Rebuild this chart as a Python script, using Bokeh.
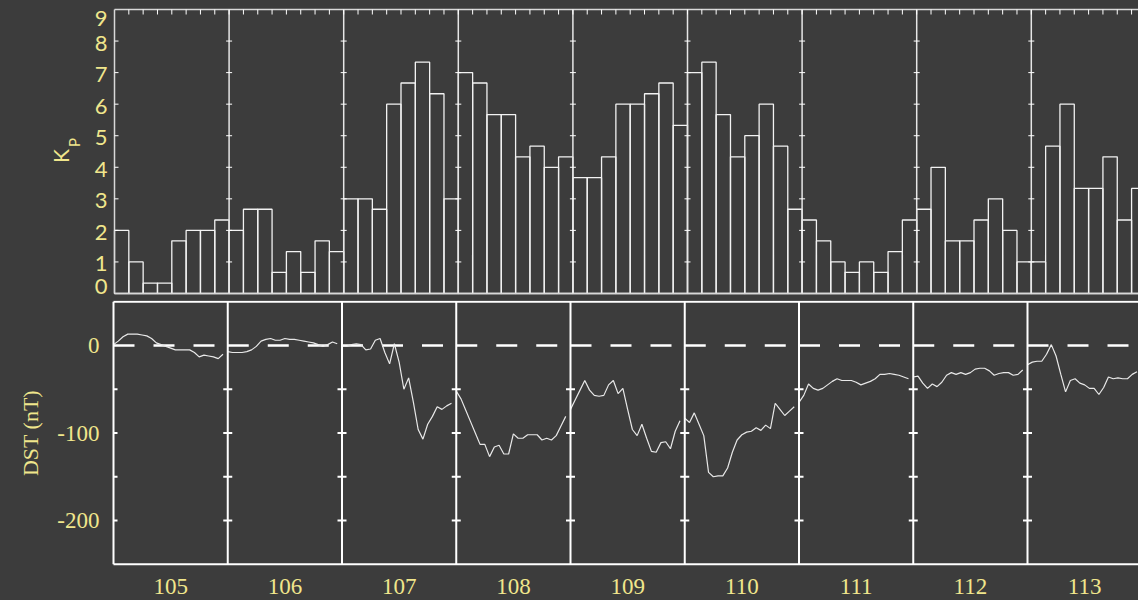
import numpy as np
from bokeh.plotting import figure
from bokeh.layouts import column
from bokeh.models import Range1d
from bokeh.core.properties import value
from bokeh.embed import file_html
from bokeh.resources import INLINE

# ---------------- data ----------------
days = [105, 106, 107, 108, 109, 110, 111, 112, 113]

kp_105 = [2.0, 1.0, 0.33, 0.33, 1.67, 2.0, 2.0, 2.33]
kp_106 = [2.0, 2.67, 2.67, 0.67, 1.33, 0.67, 1.67, 1.33]
kp_107 = [3.0, 3.0, 2.67, 6.0, 6.67, 7.33, 6.33, 3.0]
kp_108 = [7.0, 6.67, 5.67, 5.67, 4.33, 4.67, 4.0, 4.33]
kp_109 = [3.67, 3.67, 4.33, 6.0, 6.0, 6.33, 6.67, 5.33]
kp_110 = [7.0, 7.33, 5.67, 4.33, 5.0, 6.0, 4.67, 2.67]
kp_111 = [2.33, 1.67, 1.0, 0.67, 1.0, 0.67, 1.33, 2.33]
kp_112 = [2.67, 4.0, 1.67, 1.67, 2.33, 3.0, 2.0, 1.0]
kp_113 = [1.0, 4.67, 6.0, 3.33, 3.33, 4.33, 2.33, 3.33]

dst_105 = [1, 5, 10, 13, 13, 13, 12, 11, 8, 3, 1, -1, -3, -5, -5, -5, -5, -8, -13, -11, -12, -13, -15, -10]
dst_106 = [-7, -8, -8, -8, -7, -5, -1, 5, 7, 8, 6, 6, 8, 7, 7, 6, 5, 4, 3, 1, -1, 1, 4, 2]
dst_107 = [-1, -1, 1, 2, 1, -5, -4, 6, 8, -8, -21, 2, -19, -50, -37, -65, -96, -107, -90, -81, -70, -73, -69, -66]
dst_108 = [-52, -61, -74, -87, -100, -113, -113, -127, -116, -114, -124, -124, -101, -106, -106, -102, -102, -102, -108, -106, -108, -103, -92, -81]
dst_109 = [-73, -62, -51, -40, -51, -57, -58, -57, -45, -40, -55, -49, -73, -96, -103, -90, -106, -121, -122, -111, -110, -118, -98, -86]
dst_110 = [-83, -88, -77, -90, -103, -145, -150, -149, -149, -140, -122, -108, -102, -99, -98, -94, -97, -91, -95, -66, -73, -80, -75, -70]
dst_111 = [-65, -57, -44, -49, -51, -49, -45, -41, -38, -40, -40, -40, -42, -45, -43, -41, -38, -33, -33, -32, -33, -34, -36, -38]
dst_112 = [-36, -35, -43, -49, -44, -47, -42, -34, -31, -33, -31, -33, -31, -27, -26, -26, -29, -34, -32, -31, -31, -34, -33, -28]
dst_113 = [-22, -19, -18, -18, -10, 1, -12, -33, -53, -40, -38, -43, -45, -49, -49, -56, -48, -36, -38, -37, -38, -38, -33, -30]

kp_ticks = [0, 1, 2, 3, 4, 5, 6, 7, 8, 9]
dst_label_ticks = [0, -100, -200]
dst_tick_marks = [-200, -150, -100, -50]
kp_title = "K"
kp_title_sub = "P"
dst_title = "DST (nT)"

# ---------------- style / layout (pixels) ----------------
BG = "#3c3c3c"
TXT = "#f0e68c"
W = 1138
H_TOP, H_BOT = 300, 300
# top panel: frame left at px 114, 114.6 px/day; Kp 9 at px 9, Kp 0 at px 293
T_LEFT, T_PXDAY, T_Y9, T_Y0 = 114, 114.6, 9, 293
# bottom panel: frame left at px 113, 114.25 px/day; DST 0 at px 45 (page 345), 0.875 px/nT
B_LEFT, B_PXDAY, B_Y0, B_PXNT = 113, 114.25, 45, 0.875
kp_label_nudge = [-7, 2, 2, 2, 2, 2, 2, 2, 2, 9]   # px, IDL keeps end labels inside the box

kp = kp_105 + kp_106 + kp_107 + kp_108 + kp_109 + kp_110 + kp_111 + kp_112 + kp_113
dst = [dst_105, dst_106, dst_107, dst_108, dst_109, dst_110, dst_111, dst_112, dst_113]

x_start = days[0] - 0.5
bars_per_day = 8
bar_left = x_start + np.arange(len(kp)) / bars_per_day
bar_right = bar_left + 1.0 / bars_per_day
day_bounds = [d - 0.5 for d in days[1:]]

kp_top, kp_bot = kp_ticks[-1], kp_ticks[0]
t_pxk = (T_Y0 - T_Y9) / (kp_top - kp_bot)
t_xr = Range1d(x_start - T_LEFT / T_PXDAY, x_start + (W - T_LEFT) / T_PXDAY)
t_yr = Range1d(kp_bot - (H_TOP - T_Y0) / t_pxk, kp_top + T_Y9 / t_pxk)
x_far = t_xr.end + 1

# ---------------- top panel: Kp ----------------
top = figure(width=W, height=H_TOP, x_range=t_xr, y_range=t_yr,
             output_backend="svg", toolbar_location=None,
             x_axis_location=None, y_axis_location=None, min_border=0,
             background_fill_color=BG, border_fill_color=BG, outline_line_color=None)
top.grid.visible = False

top.quad(left=bar_left, right=bar_right, bottom=kp_bot, top=kp,
         fill_color=None, line_color="#f2f2f2", line_width=1.3)

# panel box
top.segment(x0=[x_start, x_start, x_start], y0=[kp_bot, kp_top, kp_bot],
            x1=[x_start, x_far, x_far], y1=[kp_top, kp_top, kp_bot],
            line_color="#d8d8d8", line_width=1.5)
# day separators
top.segment(x0=day_bounds, y0=kp_bot, x1=day_bounds, y1=kp_top, line_color="#e6e6e6", line_width=1.5)
bx, by = np.meshgrid(day_bounds, kp_ticks[1:-1])
top.scatter(x=bx.ravel(), y=by.ravel(), marker="dash", size=6, line_color="white", line_width=1)
# left inward ticks
top.segment(x0=x_start, y0=kp_ticks[1:-1], x1=x_start + 4 / T_PXDAY, y1=kp_ticks[1:-1],
            line_color="white", line_width=1)
# 3-hour ticks hanging from the top edge
tick3h = x_start + np.arange(1, len(kp) + 2) / bars_per_day
top.segment(x0=tick3h, y0=kp_top, x1=tick3h, y1=kp_top - 5 / t_pxk, line_color="white", line_width=1)

# tick labels and title
top.text(x=[x_start] * len(kp_ticks), y=kp_ticks, text=[str(t) for t in kp_ticks],
         x_offset=-7, y_offset=kp_label_nudge, text_align="right", text_baseline="middle",
         text_font=value("Lato"), text_font_size="22px", text_color=TXT)
kp_mid = (kp_top + kp_bot) / 2
top.text(x=[x_start], y=[kp_mid], text=[kp_title], x_offset=-54, y_offset=4.5, angle=np.pi / 2,
         text_align="center", text_baseline="middle", text_font=value("Lato"),
         text_font_size="21px", text_color=TXT)
top.text(x=[x_start], y=[kp_mid], text=[kp_title_sub], x_offset=-41, y_offset=-9, angle=np.pi / 2,
         text_align="center", text_baseline="middle", text_font=value("Lato"),
         text_font_size="15px", text_color=TXT)

# ---------------- bottom panel: DST ----------------
dst_hi, dst_lo = 50, -250
b_xr = Range1d(x_start - B_LEFT / B_PXDAY, x_start + (W - B_LEFT) / B_PXDAY)
b_yr = Range1d(-(H_BOT - B_Y0) / B_PXNT, B_Y0 / B_PXNT)

bot = figure(width=W, height=H_BOT, x_range=b_xr, y_range=b_yr,
             output_backend="svg", toolbar_location=None,
             x_axis_location=None, y_axis_location=None, min_border=0,
             background_fill_color=BG, border_fill_color=BG, outline_line_color=None)
bot.grid.visible = False

# zero reference, dashed per day
bot.multi_line(xs=[[d - 0.5, d + 0.5] for d in days], ys=[[0, 0] for _ in days],
               line_color="white", line_width=2.5, line_dash="21 19")

# hourly DST, one curve per day
hours = np.arange(24)
bot.multi_line(xs=[list(d - 0.5 + hours / 24.0) for d in days], ys=dst,
               line_color="#e8e8e8", line_width=1.2)

# panel box and day separators
bot.segment(x0=[x_start, x_start, x_start], y0=[dst_lo, dst_hi, dst_lo],
            x1=[x_start, x_far, x_far], y1=[dst_hi, dst_hi, dst_lo],
            line_color="white", line_width=2)
bot.segment(x0=day_bounds, y0=dst_lo, x1=day_bounds, y1=dst_hi, line_color="white", line_width=2)
dx, dy = np.meshgrid(day_bounds, dst_tick_marks)
bot.scatter(x=dx.ravel(), y=dy.ravel(), marker="dash", size=9, line_color="white", line_width=2)
bot.segment(x0=x_start, y0=dst_tick_marks, x1=x_start + 4 / B_PXDAY, y1=dst_tick_marks,
            line_color="white", line_width=2)

# tick labels and title
bot.text(x=[x_start] * len(dst_label_ticks), y=dst_label_ticks, text=[str(t) for t in dst_label_ticks],
         x_offset=-14, text_align="right", text_baseline="middle",
         text_font=value("Liberation Serif"), text_font_size="23px", text_color=TXT)
bot.text(x=[x_start], y=[(dst_label_ticks[1])], text=[dst_title], x_offset=-83, angle=np.pi / 2,
         text_align="center", text_baseline="middle",
         text_font=value("Liberation Serif"), text_font_size="22px", text_color=TXT)
bot.text(x=days, y=[dst_lo] * len(days), text=[str(d) for d in days], y_offset=22,
         text_align="center", text_baseline="middle",
         text_font=value("Liberation Serif"), text_font_size="23px", text_color=TXT)

layout = column(top, bot, spacing=0)

tmpl = ("{% block preamble %}<style>html,body{margin:0 !important;padding:0 !important;"
        "background:#3c3c3c;overflow:hidden;}</style>{% endblock %}")
open("out.html", "w").write(file_html(layout, INLINE, template=tmpl))
